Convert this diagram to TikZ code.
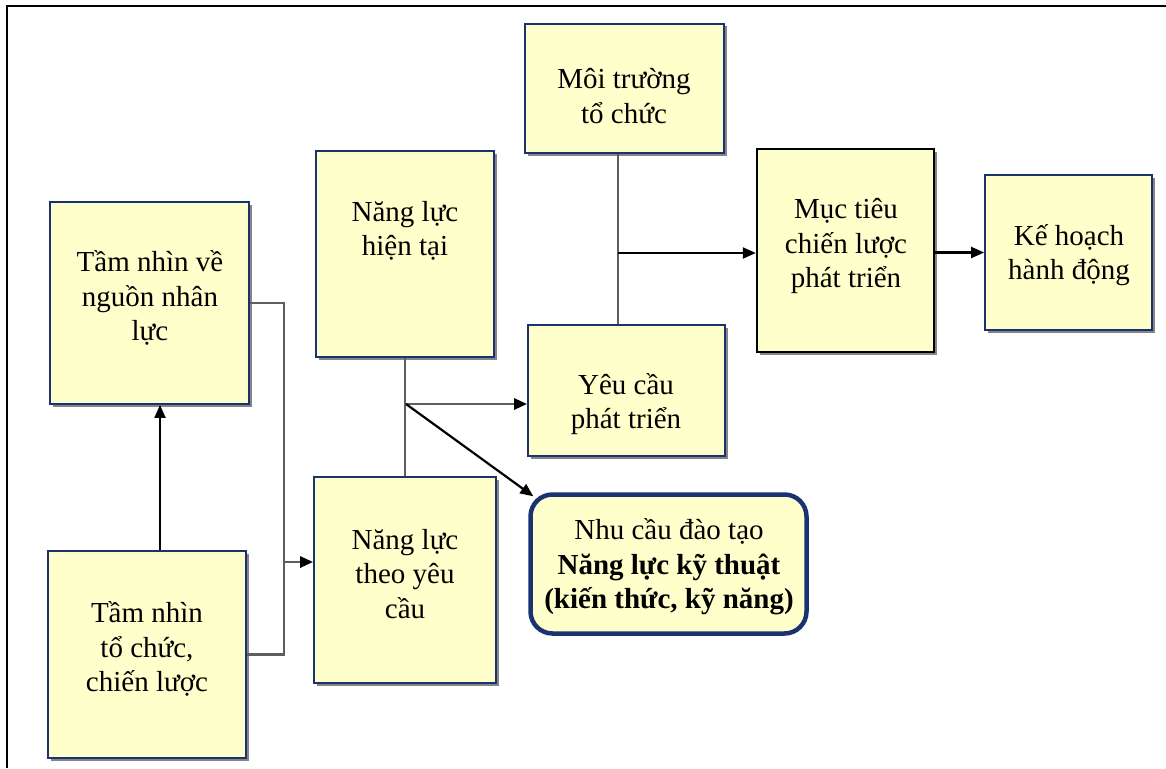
\documentclass[tikz,border=0pt]{standalone}
\usepackage{fontspec}
\setmainfont{Liberation Serif}
\usetikzlibrary{arrows.meta,shadows,calc}
\definecolor{boxfill}{HTML}{FFFFCC}
\definecolor{navy}{HTML}{1A3370}
\definecolor{conn}{HTML}{5E5E5E}
\begin{document}
\begin{tikzpicture}[x=1pt,y=-1pt,
  box/.style={draw=navy,line width=1.8pt,fill=boxfill,inner sep=0pt,
    drop shadow={shadow xshift=2.5pt,shadow yshift=-2.5pt,fill=black!60,opacity=0.8}},
  blackbox/.style={box,draw=black,line width=2.4pt},
  roundbox/.style={draw=navy,line width=4.5pt,fill=boxfill,rounded corners=22pt,inner sep=0pt},
  txt/.style={align=center,font=\fontsize{29}{34.5}\selectfont,inner sep=0pt},
  gl/.style={draw=conn,line width=2.8pt},
  garr/.style={gl,-{Triangle[length=13pt,width=11pt,color=black]}},
  barr/.style={draw=black,line width=2.2pt,-{Triangle[length=13pt,width=11pt]}}
]
\useasboundingbox (0,0) rectangle (1166,768);
\draw[line width=1.6pt] (7,768) -- (7,6) -- (1166,6);

% boxes
\node[box,minimum width=199pt,minimum height=202pt] (b1) at (149.5,303) {};
\node[box,minimum width=198pt,minimum height=207pt] (b2) at (147,654.5) {};
\node[box,minimum width=178pt,minimum height=206pt] (b3) at (405,254) {};
\node[box,minimum width=182pt,minimum height=206pt] (b4) at (405,580) {};
\node[box,minimum width=199pt,minimum height=129pt] (b5) at (624.5,88.5) {};
\node[box,minimum width=197pt,minimum height=131pt] (b6) at (626.5,390.5) {};
\node[blackbox,minimum width=177pt,minimum height=203pt] (b7) at (845.5,250.5) {};
\node[box,minimum width=167pt,minimum height=155pt] (b8) at (1068.5,252.5) {};
\node[roundbox,minimum width=276pt,minimum height=139pt] (b9) at (668.5,564) {};

% texts
\node[txt] (t1) at (150,298) {Tầm nhìn về\\nguồn nhân\\lực};
\node[txt] (t2) at (147,649) {Tầm nhìn\\tổ chức,\\chiến lược};
\node[txt] (t3) at (405,231) {Năng lực\\hiện tại};
\node[txt] (t4) at (405,574) {Năng lực\\theo yêu\\cầu};
\node[txt] (t5) at (624,96) {Môi trường\\tổ chức};
\node[txt] (t6) at (626,404) {Yêu cầu\\phát triển};
\node[txt] (t7) at (846,246) {Mục tiêu\\chiến lược\\phát triển};
\node[txt] (t8) at (1069,255) {Kế hoạch\\hành động};
\node[txt] (t9) at (669,567) {Nhu cầu đào tạo\\\textbf{Năng lực kỹ thuật}\\\textbf{(kiến thức, kỹ năng)}};

% connectors
\coordinate (ja) at (160,480);
\draw[barr] (b2.north -| ja) -- (b1.south -| ja);
\coordinate (jl) at (284,562);
\draw[gl] (b1.east) -| (jl) |- (b2.east);
\draw[garr] (jl) -- (jl -| b4.west);

\coordinate (jm) at (406,404);
\draw[gl] (b3.south) -- (b4.north);
\draw[garr] (jm) -- (jm -| b6.west);
\draw[barr] (jm) -- ($(b9.north west)+(5,4)$);

\coordinate (jr) at (618,253);
\draw[gl] (b5.south -| jr) -- (b6.north -| jr);
\draw[barr] (jr) -- (jr -| b7.west);
\draw[barr] (b8.west -| b7.east) -- (b8.west);
\end{tikzpicture}
\end{document}
